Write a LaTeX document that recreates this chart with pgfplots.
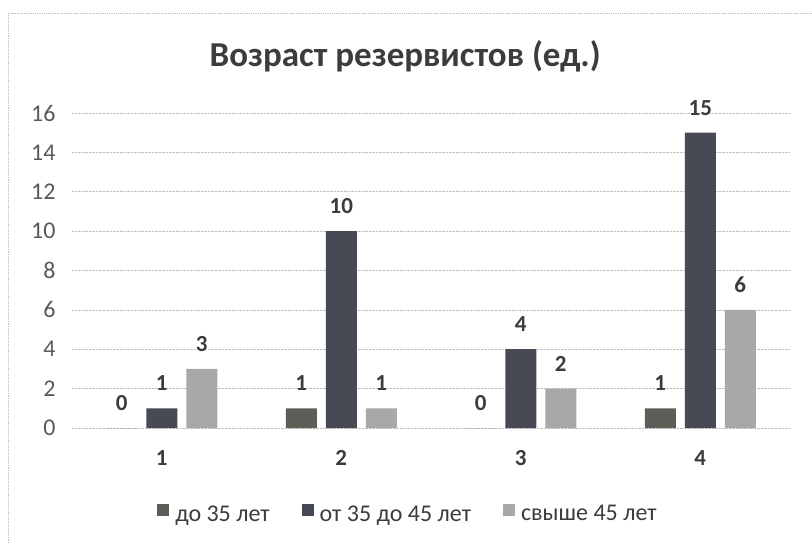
\documentclass[border=0pt]{standalone}
\usepackage{fontspec}
\setmainfont{Carlito}
\usepackage{pgfplots}
\pgfplotsset{compat=1.18}
\definecolor{serA}{HTML}{5E5D58}
\definecolor{serB}{HTML}{474A55}
\definecolor{serC}{HTML}{A8A8A8}
\definecolor{txt}{HTML}{3C3C3C}
\definecolor{tickc}{HTML}{595959}
\definecolor{gridc}{HTML}{BFBFBF}
\begin{document}
\begin{tikzpicture}[x=1pt,y=1pt]
\useasboundingbox (0,0) rectangle (812,544);
\draw[gridc, densely dotted, line width=0.8pt] (8,531) -- (830,531);
\draw[gridc, densely dotted, line width=0.8pt] (8,531) -- (8,-10);
\begin{axis}[
  at={(72pt,116pt)}, anchor=south west,
  scale only axis, width=718pt, height=315pt,
  ymin=0, ymax=16, ytick={0,2,...,16},
  xmin=0.5, xmax=4.5, xtick={1,2,3,4},
  ybar=9pt, bar width=31pt,
  axis line style={draw=none},
  major tick length=0pt,
  ymajorgrids, grid style={gridc, densely dotted, line width=0.7pt},
  /pgf/number format/assume math mode=true,
  yticklabel style={font=\fontsize{24}{28}\selectfont, text=tickc, anchor=east, xshift=-13pt},
  xticklabel style={font=\fontsize{23}{27}\selectfont\bfseries, text=txt, anchor=north, yshift=-19pt},
  title={Возраст резервистов (ед.)},
  title style={font=\fontsize{35}{40}\selectfont\bfseries, text=txt, at={(0.464,1)}, anchor=center, yshift=51pt},
  nodes near coords,
  every node near coord/.append style={font=\fontsize{23}{27}\selectfont\bfseries, text=txt, anchor=center, yshift=25pt},
  legend style={at={(0.468,-0.273)}, anchor=center, legend columns=3, draw=none, fill=none,
    font=\fontsize{24}{28}\selectfont, text=txt,
    /tikz/every odd column/.append style={column sep=4pt},
    /tikz/every even column/.append style={column sep=30pt}},
  legend image code/.code={\path[draw=none,fill=none] (0pt,-9pt) -- (0pt,9pt);\fill[#1,draw=none] (0pt,-2pt) rectangle (12pt,10pt);},
]
\addplot[fill=serA, draw=none] coordinates {(1,0) (2,1) (3,0) (4,1)};
\addlegendentry{до 35 лет}
\addplot[fill=serB, draw=none] coordinates {(1,1) (2,10) (3,4) (4,15)};
\addlegendentry{от 35 до 45 лет}
\addplot[fill=serC, draw=none] coordinates {(1,3) (2,1) (3,2) (4,6)};
\addlegendentry{свыше 45 лет}
\end{axis}
\end{tikzpicture}
\end{document}
